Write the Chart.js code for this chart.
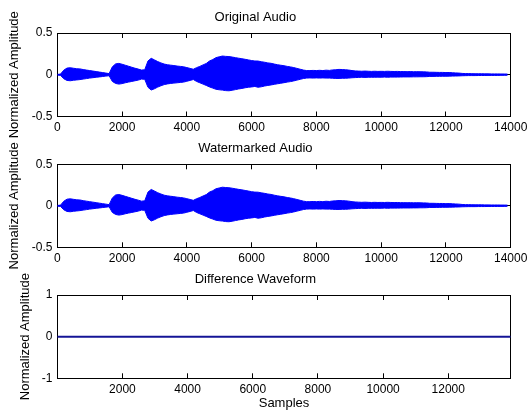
<!DOCTYPE html>
<html>
<head>
<meta charset="utf-8">
<script src="https://cdn.jsdelivr.net/npm/chart.js@4.4.0/dist/chart.umd.min.js"></script>
<style>
    body { margin: 0; background: #fff; }
    #wrap { position: relative; width: 530px; height: 416px; }
    #wrap canvas { position: absolute; left: 0; top: 0; }
</style>
</head>
<body>
<div id="wrap">
    <canvas id="origChart" width="530" height="416"></canvas>
    <canvas id="wmChart" width="530" height="416"></canvas>
    <canvas id="diffChart" width="530" height="416"></canvas>
</div>
<script>
// envelope of the audio, one max/min pair per 100-sample window
const sampleStep = 100;

const originalHi = [
    0.004, 0.008, 0.055, 0.080, 0.084, 0.078, 0.072, 0.070, 0.062, 0.056,
    0.050, 0.044, 0.038, 0.032, 0.026, 0.020, 0.014, 0.095, 0.130, 0.136,
    0.126, 0.114, 0.102, 0.090, 0.078, 0.068, 0.056, 0.060, 0.165, 0.197,
    0.178, 0.158, 0.142, 0.128, 0.120, 0.115, 0.110, 0.104, 0.100, 0.095,
    0.086, 0.076, 0.066, 0.085, 0.100, 0.118, 0.135, 0.165, 0.182, 0.205,
    0.215, 0.224, 0.220, 0.218, 0.212, 0.205, 0.198, 0.192, 0.185, 0.178,
    0.170, 0.165, 0.164, 0.156, 0.150, 0.142, 0.137, 0.128, 0.120, 0.114,
    0.108, 0.100, 0.094, 0.086, 0.076, 0.066, 0.056, 0.050, 0.050, 0.052,
    0.050, 0.053, 0.050, 0.055, 0.052, 0.058, 0.060, 0.064, 0.062, 0.060,
    0.056, 0.050, 0.046, 0.044, 0.042, 0.044, 0.042, 0.040, 0.042, 0.040,
    0.041, 0.040, 0.042, 0.040, 0.039, 0.040, 0.038, 0.038, 0.037, 0.038,
    0.036, 0.037, 0.036, 0.035, 0.034, 0.030, 0.030, 0.029, 0.028, 0.028,
    0.026, 0.027, 0.024, 0.022, 0.020, 0.016, 0.014, 0.014, 0.013, 0.012,
    0.012, 0.012, 0.011, 0.011, 0.010, 0.010, 0.010, 0.009, 0.009, 0.008
];

const originalLo = [
    -0.004, -0.008, -0.048, -0.068, -0.072, -0.066, -0.062, -0.058, -0.052, -0.046,
    -0.040, -0.035, -0.030, -0.026, -0.021, -0.016, -0.012, -0.080, -0.104, -0.112,
    -0.106, -0.096, -0.088, -0.080, -0.072, -0.064, -0.052, -0.055, -0.150, -0.183,
    -0.168, -0.148, -0.132, -0.118, -0.110, -0.104, -0.100, -0.096, -0.092, -0.088,
    -0.078, -0.068, -0.057, -0.080, -0.096, -0.112, -0.128, -0.146, -0.160, -0.174,
    -0.180, -0.184, -0.190, -0.192, -0.186, -0.178, -0.170, -0.164, -0.156, -0.150,
    -0.146, -0.140, -0.150, -0.144, -0.135, -0.128, -0.122, -0.115, -0.108, -0.102,
    -0.095, -0.088, -0.082, -0.074, -0.064, -0.055, -0.045, -0.040, -0.038, -0.040,
    -0.038, -0.040, -0.038, -0.040, -0.040, -0.042, -0.044, -0.044, -0.042, -0.042,
    -0.040, -0.036, -0.034, -0.032, -0.030, -0.032, -0.030, -0.030, -0.030, -0.029,
    -0.030, -0.028, -0.030, -0.028, -0.028, -0.028, -0.027, -0.026, -0.026, -0.026,
    -0.025, -0.025, -0.024, -0.024, -0.023, -0.020, -0.020, -0.019, -0.019, -0.018,
    -0.018, -0.017, -0.016, -0.015, -0.014, -0.012, -0.011, -0.010, -0.010, -0.010,
    -0.009, -0.009, -0.009, -0.008, -0.008, -0.008, -0.008, -0.007, -0.007, -0.006
];

// the watermarked trace reads the same as the original at this resolution
const watermarkedHi = originalHi.slice();
const watermarkedLo = originalLo.slice();

// difference waveform: flat at zero over the whole signal
const diffX = [1, 13916];
const diffY = [0, 0];

// axis limits and tick labels
const audioRangeX = [0, 14000];
const audioRangeY = [-0.5, 0.5];
const diffRangeX = [1, 13916];
const diffRangeY = [-1, 1];
const audioTicksX = [0, 2000, 4000, 6000, 8000, 10000, 12000, 14000];
const diffTicksX = [2000, 4000, 6000, 8000, 10000, 12000];
const audioTicksY = [-0.5, 0, 0.5];
const diffTicksY = [-1, 0, 1];

const titles = ['Original Audio', 'Watermarked Audio', 'Difference Waveform'];
const yTitle = 'Normalized Amplitude';
const xTitle = 'Samples';

Chart.defaults.font.family = '"Liberation Sans", Arial, Helvetica, sans-serif';
Chart.defaults.color = '#000';

const labelFont = { size: 13 };

// MATLAB-style rotated ylabel that may run past its own axes
const yLabelPlugin = {
    id: 'yLabel',
    afterDraw(chart, args, opts) {
        const { ctx, chartArea } = chart;
        ctx.save();
        ctx.font = '13px "Liberation Sans", Arial, Helvetica, sans-serif';
        ctx.fillStyle = '#000';
        ctx.textAlign = 'center';
        ctx.textBaseline = 'middle';
        ctx.translate(opts.x, (chartArea.top + chartArea.bottom) / 2);
        ctx.rotate(-Math.PI / 2);
        ctx.fillText(opts.text, 0, 0);
        ctx.restore();
    }
};

function setEnvelope(values) {
    return values.map((v, i) => ({ x: i * sampleStep, y: v }));
}

function axisPair(range, tickVals, isX, tickFont, labelPad) {
    const grid = { drawOnChartArea: false, drawTicks: true, tickLength: -5, color: '#000' };
    const setTicks = function (s) {
        s.ticks = tickVals.map(v => ({ value: v }));
    };
    const main = {
        type: 'linear',
        position: isX ? 'bottom' : 'left',
        min: range[0],
        max: range[1],
        grid: grid,
        border: { color: '#000' },
        afterBuildTicks: setTicks,
        ticks: {
            autoSkip: false,
            maxRotation: 0,
            padding: labelPad,
            font: tickFont,
            color: '#000',
            callback: function (value) {
                return String(value);
            }
        }
    };
    const mirror = {
        type: 'linear',
        position: isX ? 'top' : 'right',
        min: range[0],
        max: range[1],
        grid: grid,
        border: { color: '#000' },
        afterBuildTicks: setTicks,
        ticks: { display: false },
        afterFit: function (s) {
            if (isX) s.height = 0; else s.width = 0;
        }
    };
    return [main, mirror];
}

function drawPanel(el, datasets, xRange, xTicks, yRange, yTicks, title, pad, xHeight, xLabelDrop, yLabelX, withXTitle) {
    // x labels: no padding (it would widen the right margin), tall line box to drop them below the axis
    const [x, x2] = axisPair(xRange, xTicks, true, { size: 12, lineHeight: xLabelDrop + 'px' }, 0);
    const [y, y2] = axisPair(yRange, yTicks, false, { size: 12 }, 9.8);
    x.afterFit = function (s) { s.height = xHeight; };
    y.afterFit = function (s) { s.width = 57.3; };
    if (withXTitle) {
        x.title = { display: true, text: xTitle, font: labelFont, color: '#000', padding: { top: 0, bottom: 4.7 } };
    }

    const config = {
        type: 'line',
        data: { datasets: datasets },
        options: {
            responsive: false,
            animation: false,
            events: [],
            layout: { padding: pad },
            scales: { x: x, x2: x2, y: y, y2: y2 },
            plugins: {
                legend: { display: false },
                tooltip: { enabled: false },
                title: {
                    display: true,
                    text: title,
                    font: { size: 13, weight: 'normal' },
                    color: '#000',
                    padding: { top: 0, bottom: 7.7 }
                },
                yLabel: { text: yTitle, x: yLabelX }
            }
        },
        plugins: [yLabelPlugin]
    };

    return new Chart(el, config);
}

function waveDatasets(hi, lo) {
    // upper envelope filled down to the lower envelope
    return [{
        data: setEnvelope(hi),
        borderColor: 'rgb(0,0,255)',
        backgroundColor: 'rgb(0,0,255)',
        borderWidth: 1,
        pointRadius: 0,
        tension: 0,
        fill: '+1'
    }, {
        data: setEnvelope(lo),
        borderColor: 'rgb(0,0,255)',
        borderWidth: 1,
        pointRadius: 0,
        tension: 0,
        fill: false
    }];
}

drawPanel(document.getElementById('origChart'),
    waveDatasets(originalHi, originalLo),
    audioRangeX, audioTicksX, audioRangeY, audioTicksY, titles[0],
    { left: 0, right: 19.3, top: 9.7, bottom: 279.5 }, 20, 32, 14.5, false);

drawPanel(document.getElementById('wmChart'),
    waveDatasets(watermarkedHi, watermarkedLo),
    audioRangeX, audioTicksX, audioRangeY, audioTicksY, titles[1],
    { left: 0, right: 19.3, top: 141, bottom: 148.7 }, 20, 32, 14.5, false);

drawPanel(document.getElementById('diffChart'),
    [{
        data: diffX.map((v, i) => ({ x: v, y: diffY[i] })),
        borderColor: 'rgb(20,20,150)',
        borderWidth: 2,
        pointRadius: 0,
        fill: false
    }],
    diffRangeX, diffTicksX, diffRangeY, diffTicksY, titles[2],
    { left: 0, right: 19.3, top: 271.7, bottom: 0 }, 37.7, 33.4, 25.5, true);
</script>
</body>
</html>
